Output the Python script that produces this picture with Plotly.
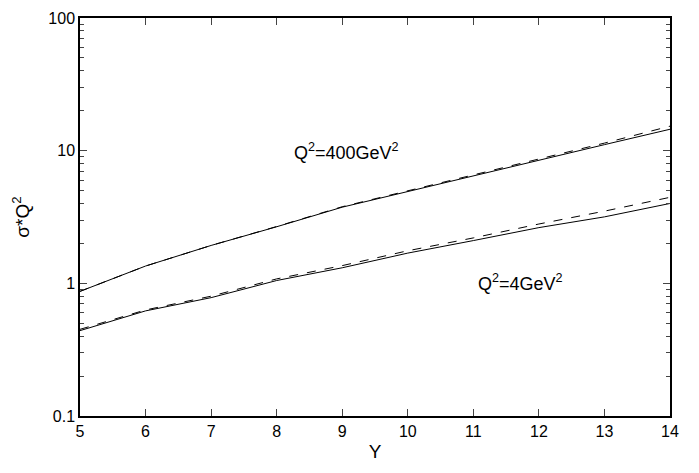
import plotly.graph_objects as go

Y = [5, 6, 7, 8, 9, 10, 11, 12, 13, 14]
hi_solid = [0.87, 1.35, 1.93, 2.67, 3.75, 4.93, 6.46, 8.5, 11.1, 14.5]
hi_dash = [0.87, 1.35, 1.93, 2.68, 3.78, 4.98, 6.55, 8.7, 11.4, 15.3]
lo_solid = [0.44, 0.62, 0.78, 1.05, 1.31, 1.69, 2.1, 2.63, 3.17, 4.0]
lo_dash = [0.45, 0.63, 0.80, 1.08, 1.36, 1.76, 2.2, 2.8, 3.5, 4.45]

y_major = [0.1, 1, 10, 100]
y_major_text = ["0.1", "1", "10", "100"]
y_minor = [m * d for d in [0.1, 1, 10] for m in range(2, 10)]

fig = go.Figure()
for vals, dash in [(hi_solid, "solid"), (hi_dash, "dash"), (lo_solid, "solid"), (lo_dash, "dash")]:
    fig.add_trace(go.Scatter(x=Y, y=vals, mode="lines",
                             line=dict(color="black", width=1, dash=dash),
                             showlegend=False))

font = dict(family="Liberation Sans, Arial, sans-serif", size=16, color="black")
afont = dict(family="Liberation Sans, Arial, sans-serif", size=18, color="black")
fig.update_layout(
    width=699, height=473, margin=dict(l=80, r=29, t=10, b=57),
    plot_bgcolor="white", paper_bgcolor="white", font=font,
    xaxis=dict(range=[5, 14], tickvals=Y, ticks="inside", ticklen=7,
               showline=True, linecolor="black", linewidth=1.5, mirror="ticks",
               showgrid=False, zeroline=False,
               title=dict(text="Y", standoff=6)),
    yaxis=dict(type="log", range=[-1, 2], tickvals=y_major, ticktext=y_major_text,
               ticks="inside", ticklen=7, showline=True, linecolor="black",
               linewidth=1.5, mirror="ticks", showgrid=False, zeroline=False,
               minor=dict(tickvals=y_minor, ticks="inside", ticklen=4, showgrid=False),
               title=dict(text="σ*Q<sup>2</sup>", standoff=14)),
    annotations=[
        dict(x=9.07, y=0.995, xref="x", yref="y", text="Q<sup>2</sup>=400GeV<sup>2</sup>",
             showarrow=False, font=afont, yanchor="middle"),
        dict(x=11.72, y=0.005, xref="x", yref="y", text="Q<sup>2</sup>=4GeV<sup>2</sup>",
             showarrow=False, font=afont, yanchor="middle"),
    ],
)
fig.write_html("out.html")
